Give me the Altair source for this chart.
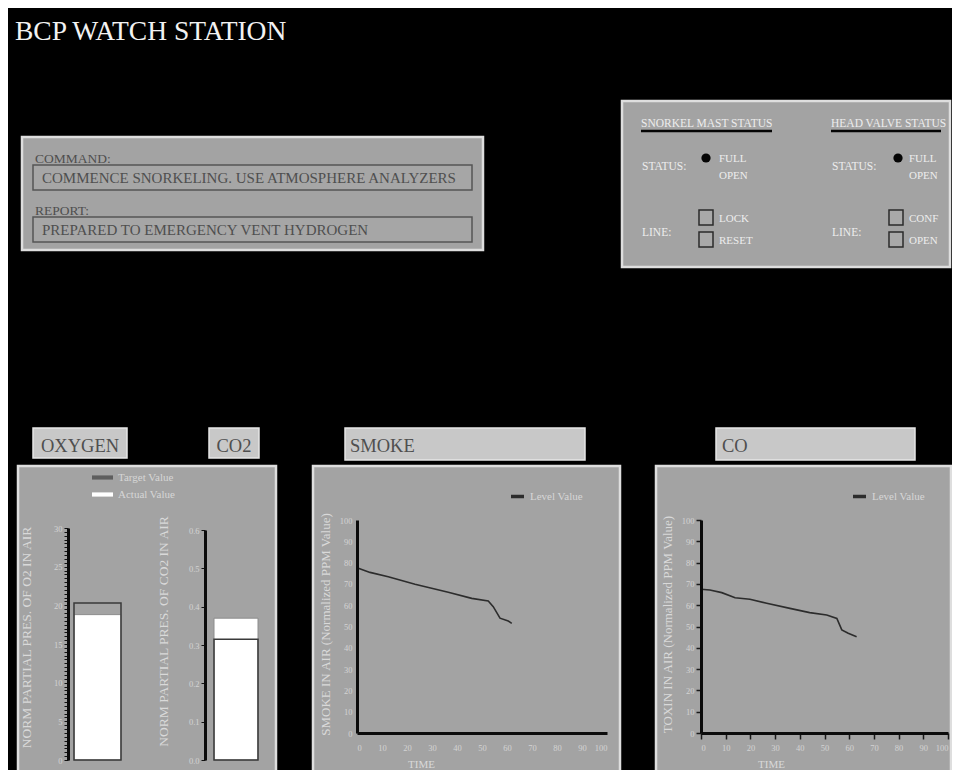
import altair as alt
import pandas as pd

# ------------------------------------------------------------------ data
o2_series = ["Target Value", "Actual Value"]
o2_values = [20.3, 18.8]          # oxygen partial pressure (target, actual)
co2_values = [0.315, 0.370]       # CO2 partial pressure (target, actual)

smoke_time = [0, 5.2, 12.5, 23.2, 36.5, 45.9, 52.5, 54.5, 57.2, 60.5, 61.9]
smoke_level = [77.6, 75.4, 73.4, 69.8, 66.1, 63.2, 62.0, 59.3, 53.9, 52.6, 51.5]

co_time = [0, 3.6, 8.4, 13.8, 19.8, 26.6, 36.0, 44.0, 50.9, 55.0, 57.0, 59.6, 63.0]
co_level = [67.5, 67.1, 65.9, 63.5, 62.8, 60.9, 58.5, 56.5, 55.4, 53.8, 48.4, 46.8, 45.2]

line_series = ["Level Value"]
time_ticks = [0, 10, 20, 30, 40, 50, 60, 70, 80, 90, 100]
level_ticks = [0, 10, 20, 30, 40, 50, 60, 70, 80, 90, 100]
o2_labels = [0, 5, 10, 15, 20, 25, 30]
co2_ticks = [0, 0.1, 0.2, 0.3, 0.4, 0.5, 0.6]

title_text = "BCP WATCH STATION"
command_label = "COMMAND:"
command_text = "COMMENCE SNORKELING. USE ATMOSPHERE ANALYZERS"
report_label = "REPORT:"
report_text = "PREPARED TO EMERGENCY VENT HYDROGEN"
mast_heading = "SNORKEL MAST STATUS"
valve_heading = "HEAD VALVE STATUS"
status_label = "STATUS:"
line_label = "LINE:"
status_words = ["FULL", "OPEN"]
mast_checks = ["LOCK", "RESET"]
valve_checks = ["CONF", "OPEN"]
panel_titles = ["OXYGEN", "CO2", "SMOKE", "CO"]
o2_title = "NORM PARTIAL PRES. OF O2 IN AIR"
co2_title = "NORM PARTIAL PRES. OF CO2 IN AIR"
smoke_title = "SMOKE IN AIR (Normalized PPM Value)"
co_title = "TOXIN IN AIR (Normalized PPM Value)"
time_title = "TIME"

# ------------------------------------------------------------------ layout helpers
W, H = 944, 762
M = 8
FONT = "Liberation Serif"
PANEL = "#a3a3a3"
PANEL_EDGE = "#dedede"
TAB = "#c8c8c8"
DARK_TXT = "#4f4f4f"
LIGHT_TXT = "#ededed"
AXIS_TXT = "#d3d3d3"

one = pd.DataFrame({"k": [0]})


def X(px):
    return px - M


def Y(py):
    return py - M


def box(x0, y0, x1, y1, fill, stroke, sw=1.0):
    return alt.Chart(one).mark_rect(fill=fill, stroke=stroke, strokeWidth=sw).encode(
        x=alt.value(X(x0)), x2=alt.value(X(x1)), y=alt.value(Y(y0)), y2=alt.value(Y(y1))
    )


def txt(x, y, s, size, color, align="left"):
    return alt.Chart(one).mark_text(
        align=align, baseline="alphabetic", font=FONT, fontSize=size, color=color
    ).encode(x=alt.value(X(x)), y=alt.value(Y(y)), text=alt.value(s))


def hline(x0, x1, y, color, sw):
    return alt.Chart(one).mark_rule(color=color, strokeWidth=sw).encode(
        x=alt.value(X(x0)), x2=alt.value(X(x1)), y=alt.value(Y(y))
    )


def dot(x, y, size):
    return alt.Chart(one).mark_circle(size=size, color="#050505", opacity=1).encode(
        x=alt.value(X(x)), y=alt.value(Y(y))
    )


deco = []
# title
deco.append(txt(15, 40, title_text, 27.5, "#f2f2f2"))

# command / report panel
deco.append(box(22, 137, 483, 250, PANEL, PANEL_EDGE, 2.5))
deco.append(txt(35, 163, command_label, 13.5, DARK_TXT))
deco.append(box(33, 165, 472, 190, "#a6a6a6", "#555555", 1.5))
deco.append(txt(42, 183, command_text, 15, DARK_TXT))
deco.append(txt(35, 215, report_label, 13.5, DARK_TXT))
deco.append(box(33, 217, 472, 242, "#a6a6a6", "#555555", 1.5))
deco.append(txt(42, 235, report_text, 15, DARK_TXT))

# status panel
deco.append(box(622, 101, 950, 267, PANEL, PANEL_EDGE, 2.5))
for (x0, x1, head, checks) in [(641, 772, mast_heading, mast_checks), (831, 941, valve_heading, valve_checks)]:
    deco.append(txt(x0, 127, head, 11.5, LIGHT_TXT))
    deco.append(hline(x0, x1, 131, "#050505", 2.5))
    deco.append(txt(x0 + 1, 170, status_label, 11.5, LIGHT_TXT))
    deco.append(txt(x0 + 1, 236, line_label, 11.5, LIGHT_TXT))
cols = [(706, 719, 699, mast_checks), (898, 909, 889, valve_checks)]
for (dx, tx, cx, checks) in cols:
    deco.append(dot(dx, 158, 85))
    deco.append(txt(tx, 162, status_words[0], 11, LIGHT_TXT))
    deco.append(txt(tx, 179, status_words[1], 11, LIGHT_TXT))
    deco.append(box(cx, 210, cx + 14, 225, "#a9a9a9", "#2b2b2b", 1.5))
    deco.append(box(cx, 232, cx + 14, 247, "#a9a9a9", "#2b2b2b", 1.5))
    deco.append(txt(tx, 222, checks[0], 11, LIGHT_TXT))
    deco.append(txt(tx, 244, checks[1], 11, LIGHT_TXT))

# tab labels above the gauges
deco.append(box(33, 428, 127, 458, TAB, "#e6e6e6", 1.5))
deco.append(txt(80, 452, panel_titles[0], 18.5, DARK_TXT, "center"))
deco.append(box(209, 428, 259, 458, TAB, "#e6e6e6", 1.5))
deco.append(txt(234, 452, panel_titles[1], 18.5, DARK_TXT, "center"))
deco.append(box(345, 428, 585, 460, TAB, "#e6e6e6", 1.5))
deco.append(txt(350, 452, panel_titles[2], 18.5, DARK_TXT))
deco.append(box(716, 428, 915, 460, TAB, "#e6e6e6", 1.5))
deco.append(txt(722, 452, panel_titles[3], 18.5, DARK_TXT))

# gauge panels
deco.append(box(18, 466, 276, 790, PANEL, PANEL_EDGE, 2.5))
deco.append(box(313, 466, 620, 790, PANEL, PANEL_EDGE, 2.5))
deco.append(box(656, 466, 951, 790, PANEL, PANEL_EDGE, 2.5))

# ------------------------------------------------------------------ axes style
axis_common = dict(
    domainColor="#0b0b0b", domainWidth=3, labelColor=AXIS_TXT, labelFont=FONT,
    labelFontSize=8.5, titleColor="#d9d9d9", titleFont=FONT, titleFontWeight="normal",
    grid=False, labelOverlap=False, zindex=1,
)

# ------------------------------------------------------------------ oxygen / co2 bars
o2_df = pd.DataFrame({"gas": ["OXYGEN", "OXYGEN"], "series": o2_series, "value": o2_values})
co2_df = pd.DataFrame({"gas": ["CO2", "CO2"], "series": o2_series, "value": co2_values})

o2_x = alt.Scale(domain=["OXYGEN"], range=[X(74), X(121)], paddingInner=0, paddingOuter=0)
o2_y = alt.Scale(domain=[0, 30], range=[Y(760), Y(528)], nice=False, zero=True)
co2_x = alt.Scale(domain=["CO2"], range=[X(214), X(258)], paddingInner=0, paddingOuter=0)
co2_y = alt.Scale(domain=[0, 0.6], range=[Y(760), Y(530)], nice=False, zero=True)

o2_minor = [i * 0.5 for i in range(61)]

o2_axis = alt.Axis(
    orient="left", offset=-X(68), values=o2_minor, format=".0f",
    labelExpr="datum.value % 5 == 0 ? datum.label : ''",
    tickColor="#111111", tickSize=4, tickWidth=1, labelPadding=2,
    title=o2_title, titleFontSize=13.5, titleAngle=270, titleAlign="center", titleBaseline="middle",
    titleX=X(26) - X(68), titleY=Y(637), **axis_common,
)
co2_axis = alt.Axis(
    orient="left", offset=-X(205), values=co2_ticks, format=".1f",
    tickColor="#111111", tickSize=4, tickWidth=1, labelPadding=2,
    title=co2_title, titleFontSize=13.5, titleAngle=270, titleAlign="center", titleBaseline="middle",
    titleX=X(163) - X(205), titleY=Y(631), **axis_common,
)


def gas_layers(df, xs, ys, axis):
    actual = alt.Chart(df).transform_filter(alt.datum.series == o2_series[1]).mark_bar(
        fill="#ffffff", stroke="#8c8c8c", strokeWidth=1
    ).encode(
        x=alt.X("gas:N", scale=xs, axis=None),
        y=alt.Y("value:Q", scale=ys, axis=axis),
    )
    target = alt.Chart(df).transform_filter(alt.datum.series == o2_series[0]).mark_bar(
        fillOpacity=0, stroke="#3a3a3a", strokeWidth=1.5
    ).encode(
        x=alt.X("gas:N", scale=xs, axis=None),
        y=alt.Y("value:Q", scale=ys, axis=None),
    )
    return [actual, target]


gas_legend = alt.Chart(o2_df).transform_filter("false").mark_bar().encode(
    fill=alt.Fill(
        "series:N",
        scale=alt.Scale(domain=o2_series, range=["#5e5e5e", "#ffffff"]),
        legend=alt.Legend(
            orient="none", legendX=X(97), legendY=Y(472), title=None,
            symbolType="M-2,-0.4L2,-0.4L2,0.4L-2,0.4Z", symbolSize=110, symbolStrokeWidth=0,
            labelFont=FONT, labelFontSize=11, labelColor="#d6d6d6", labelOffset=10, rowPadding=5,
        ),
    )
)

# ------------------------------------------------------------------ smoke / co lines
smoke_df = pd.DataFrame({"time": smoke_time, "level": smoke_level, "series": line_series[0]})
co_df = pd.DataFrame({"time": co_time, "level": co_level, "series": line_series[0]})


def line_chart(df, x0, x1, ytop, ybot, ytitle, title_x, title_cx, ticks, leg_x):
    return alt.Chart(df).mark_line(strokeWidth=1.6).encode(
        x=alt.X(
            "time:Q",
            scale=alt.Scale(domain=[0, 100], range=[X(x0), X(x1)], nice=False, zero=False),
            axis=alt.Axis(
                orient="bottom", offset=Y(ybot) - H, values=time_ticks, ticks=ticks,
                tickColor="#1a1a1a", tickSize=6, tickWidth=1.5, labelPadding=10 if not ticks else 4,
                title=time_title, titleFontSize=11, titleX=X(title_cx), titleY=34,
                titleAlign="center", titleBaseline="alphabetic", **axis_common,
            ),
        ),
        y=alt.Y(
            "level:Q",
            scale=alt.Scale(domain=[0, 100], range=[Y(ybot), Y(ytop)], nice=False),
            axis=alt.Axis(
                orient="left", offset=-X(x0), values=level_ticks, ticks=ticks,
                tickColor="#1a1a1a", tickSize=5, tickWidth=1.5, labelPadding=5 if not ticks else 2,
                title=ytitle, titleFontSize=13, titleAngle=270, titleAlign="center",
                titleBaseline="middle", titleX=X(title_x) - X(x0), titleY=Y(624), **axis_common,
            ),
        ),
        stroke=alt.Stroke(
            "series:N",
            scale=alt.Scale(domain=line_series, range=["#2c2c2c"]),
            legend=alt.Legend(
                orient="none", legendX=X(leg_x), legendY=Y(488), title=None,
                symbolType="stroke", symbolStrokeWidth=3.5, symbolSize=170,
                labelFont=FONT, labelFontSize=11, labelColor="#d6d6d6", labelOffset=4,
            ),
        ),
    )


smoke_chart = line_chart(smoke_df, 357, 607, 520, 733, smoke_title, 325, 421, False, 509)
co_chart = line_chart(co_df, 701, 948, 520, 733, co_title, 667, 771, True, 851)

layers = deco + gas_layers(o2_df, o2_x, o2_y, o2_axis) + gas_layers(co2_df, co2_x, co2_y, co2_axis)
layers += [gas_legend, smoke_chart, co_chart]

chart = alt.layer(*layers).resolve_scale(
    x="independent", y="independent", fill="independent", stroke="independent"
).resolve_axis(x="independent", y="independent").resolve_legend(
    fill="independent", stroke="independent"
).properties(
    width=W, height=H, background="#000000", padding=0,
    autosize=alt.AutoSizeParams(type="none"),
).configure_view(strokeWidth=0)

chart.save("out.html", embed_options={"renderer": "svg", "actions": False})
